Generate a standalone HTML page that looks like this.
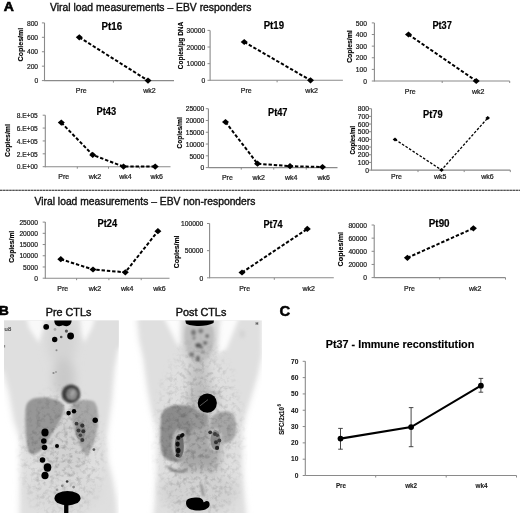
<!DOCTYPE html>
<html><head><meta charset="utf-8"><style>
html,body{margin:0;padding:0;background:#fff;width:520px;height:513px;overflow:hidden}
svg{display:block;font-family:"Liberation Sans", sans-serif;will-change:transform}
</style></head><body>
<svg width="520" height="513" viewBox="0 0 520 513">
<rect width="520" height="513" fill="#fff"/>
<defs>
<filter id="b5" x="-30%" y="-30%" width="160%" height="160%"><feGaussianBlur stdDeviation="5"/></filter>
<filter id="b3" x="-30%" y="-30%" width="160%" height="160%"><feGaussianBlur stdDeviation="3"/></filter>
<filter id="b2" x="-20%" y="-20%" width="140%" height="140%"><feGaussianBlur stdDeviation="2"/></filter>
<filter id="b1" x="-30%" y="-30%" width="160%" height="160%"><feGaussianBlur stdDeviation="1.1"/></filter>
<filter id="b06" x="-50%" y="-50%" width="200%" height="200%"><feGaussianBlur stdDeviation="0.55"/></filter>
<filter id="nz" x="0" y="0" width="100%" height="100%" color-interpolation-filters="sRGB">
  <feTurbulence type="fractalNoise" baseFrequency="0.22" numOctaves="3" seed="11"/>
  <feColorMatrix type="matrix" values="0 0 0 0 0  0 0 0 0 0  0 0 0 0 0  0.55 0 0 0 -0.25"/>
  <feGaussianBlur stdDeviation="0.55"/>
</filter>
<radialGradient id="nm1" cx="0.5" cy="0.5" r="0.5"><stop offset="0" stop-color="#fff"/><stop offset="0.7" stop-color="#fff" stop-opacity="0.6"/><stop offset="1" stop-color="#fff" stop-opacity="0"/></radialGradient>
<mask id="mk1" maskUnits="userSpaceOnUse" x="0" y="300" width="270" height="213"><ellipse cx="62" cy="455" rx="48" ry="75" fill="url(#nm1)"/></mask>
<mask id="mk2" maskUnits="userSpaceOnUse" x="0" y="300" width="270" height="213"><ellipse cx="199" cy="440" rx="50" ry="110" fill="url(#nm1)"/></mask>
<clipPath id="cp1"><rect x="4" y="320.6" width="114.7" height="192.4"/></clipPath>
<clipPath id="cp2"><rect x="132" y="320.6" width="130" height="192.4"/></clipPath>
</defs>
<!-- PRE -->
<g clip-path="url(#cp1)">
 <rect x="4" y="320.6" width="114.7" height="192.4" fill="#fff"/>
 <g filter="url(#b3)">
  <path d="M-6,310 L130,310 L130,335 L118,350 L114.5,370 L112,400 L107,436 L108,460 L113,480 L117,500 L118,520 L19,520 L20,470 L20,440 L13,420 L8,392 L2,372 L-6,360 Z" fill="#e6e6e6"/>
 </g>
 <g filter="url(#b2)">
  <path d="M-6,310 L130,310 L130,335 L116,350 L112.5,370 L110,400 L105,436 L106,460 L111,480 L114,500 L115,520 L22,520 L22,470 L22,440 L16,420 L11,392 L6,372 L-6,360 Z" fill="#dfdfdf"/>
 </g>
 <g filter="url(#b2)">
  <path d="M25,312 L45,312 L43,330 L39,343 L29,328 Z" fill="#f9f9f9"/>
  <path d="M80,312 L97,312 L92,328 L84,343 L81,333 Z" fill="#f9f9f9"/>
 </g>
 <g filter="url(#b5)">
  <ellipse cx="62" cy="342" rx="15" ry="24" fill="#d4d4d4"/>
  <ellipse cx="64" cy="378" rx="11" ry="20" fill="#c9c9c9"/>
  <ellipse cx="64" cy="448" rx="24" ry="36" fill="#d2d2d2"/>
  <ellipse cx="64" cy="492" rx="38" ry="20" fill="#dadada"/>
 </g>
 <g filter="url(#b1)">
  <path d="M25.5,410 C25.5,401 32,397.5 41,397.5 C50,397.5 57,399.5 62,403 C66,407 63,416 59,422 C54,430 48,440 42,449 C38,454 32,456 29,452.5 C26,446 25.3,425 25.5,410 Z" fill="#979797"/>
  <path d="M72,405 C75,400 87,398.5 94,401.5 C98.5,406 99,419 97,431 C95,442 91,450 87,456 C83,453 80,446 77,437 C73,427 70.5,414 72,405 Z" fill="#a7a7a7"/>
  <circle cx="71" cy="393.9" r="9.3" fill="#3c3c3c"/>
  <ellipse cx="72" cy="394.2" rx="5.6" ry="6" fill="#8a8a8a"/><ellipse cx="72.5" cy="393.5" rx="1.5" ry="3.5" fill="#a8a8a8" transform="rotate(25 72.5 393.5)"/>
 </g>
 <rect x="4" y="320.6" width="114.7" height="192.4" filter="url(#nz)" mask="url(#mk1)"/>
 <g filter="url(#b06)" fill="#000">
  <path d="M54.3,320 L71.6,320 C71.8,323 70,326 66.5,326.3 C64.5,326.4 63.5,325.3 62.8,325.3 C62,325.3 61,326.4 59,326.3 C55.5,326 54.2,323 54.3,320 Z"/>
  <circle cx="46.2" cy="326.8" r="2.9"/>
  <circle cx="66.4" cy="331.1" r="1.6" fill="#555"/><circle cx="55" cy="329.4" r="1.4" fill="#aaa"/>
  <circle cx="70.6" cy="336" r="3.4"/>
  <circle cx="54.7" cy="339.5" r="2.7"/>
  <circle cx="61.2" cy="337" r="1.3" fill="#555"/>
  <circle cx="56.5" cy="350.3" r="1" fill="#888"/>
  <circle cx="53.5" cy="373" r="1.1" fill="#888"/><circle cx="56" cy="372" r="0.9" fill="#999"/>
  <circle cx="68.6" cy="413.1" r="2.3"/><circle cx="74" cy="411.2" r="2.2"/>
  <circle cx="95.2" cy="420.3" r="2.7"/>
  <ellipse cx="45" cy="432.5" rx="3.6" ry="3.9"/><circle cx="43.8" cy="441" r="2.8"/><circle cx="44.5" cy="447.5" r="2.8"/>
  <circle cx="42.5" cy="460" r="2.8"/><ellipse cx="47.5" cy="467.5" rx="3.8" ry="4.2"/><ellipse cx="45" cy="475.5" rx="3.6" ry="3.8"/>
  <circle cx="57" cy="446" r="2"/>
  <ellipse cx="80.5" cy="431" rx="5" ry="9" fill="#777" opacity="0.6"/><circle cx="76.5" cy="423.7" r="1.9" fill="#3a3a3a"/><circle cx="82.3" cy="425.6" r="2.1" fill="#333"/><circle cx="78.5" cy="430.4" r="2" fill="#3a3a3a"/><circle cx="83.3" cy="431.3" r="2" fill="#333"/><circle cx="80.4" cy="435.2" r="1.8" fill="#444"/><circle cx="82.3" cy="440" r="2" fill="#3a3a3a"/>
  <circle cx="93.9" cy="449.6" r="1.4" fill="#555"/>
  <ellipse cx="67.5" cy="498.2" rx="13" ry="7.2"/>
  <rect x="64.1" y="503" width="4.3" height="14" rx="1.5"/>
  <circle cx="67.1" cy="481.5" r="1.3" fill="#333"/><circle cx="62.3" cy="485.8" r="1.4" fill="#888"/><circle cx="73.6" cy="487.1" r="1.4" fill="#888"/><circle cx="57.1" cy="489.7" r="1.3" fill="#999"/>
 </g>
</g>
<!-- POST -->
<g clip-path="url(#cp2)">
 <rect x="132" y="320.6" width="130" height="192.4" fill="#fff"/>
 <g filter="url(#b3)">
  <path d="M136,312 L262,312 L262,355 L258,375 L252,395 L246,415 L242.5,430 L242.5,470 L245,500 L247,520 L153,520 L155,500 L156.5,470 L156.5,430 L151,410 L147,388 L143,358 L139,340 Z" fill="#e6e6e6"/>
 </g>
 <g filter="url(#b2)">
  <path d="M138.5,312 L260.5,312 L260,355 L256,375 L250,395 L244,415 L240.5,430 L240.4,470 L243,500 L245,520 L155,520 L157,500 L158.7,470 L158.5,430 L153,410 L149,388 L145,358 L141,340 Z" fill="#dfdfdf"/>
 </g>
 <g filter="url(#b2)">
  <path d="M162,314 L180,314 L182.5,348 L177,344 Z" fill="#fcfcfc"/>
  <path d="M221.5,314 L240.5,314 L226.5,349 L218,354 L217,344 Z" fill="#fcfcfc"/>
  <ellipse cx="242.3" cy="334" rx="1.2" ry="3.5" fill="#c0c0c0"/>
 </g>
 <g filter="url(#b5)">
  <ellipse cx="199" cy="340" rx="15" ry="22" fill="#bdbdbd"/>
  <ellipse cx="199" cy="378" rx="10" ry="20" fill="#c2c2c2"/>
  <ellipse cx="202" cy="400" rx="16" ry="14" fill="#bcbcbc"/>
  <ellipse cx="199" cy="450" rx="22" ry="34" fill="#a8a8a8"/>
  <ellipse cx="199" cy="492" rx="38" ry="22" fill="#d2d2d2"/>
 </g>
 <g filter="url(#b1)">
  <path d="M161,418 C161,410 168,405.5 178,405 C188,404.5 196,408 199.5,413 C201,419 199,425 195,428 C190,431 188,438 187,446 C186,452 185,458 181,461 C175,463 166,461 162,454 C160,445 160,430 161,418 Z" fill="#8c8c8c"/>
  <path d="M190,412 C196,411 205,412 208,415 C209,421 206,427 200,429 C194,430 190,427 189,421 Z" fill="#979797"/>
  <path d="M210.5,421 C212,413 221,410.5 229,411.5 C235,414 237,423 236,432 C235,439 230,443 225,443.5 C218,443 213,437 211.5,430 Z" fill="#a6a6a6"/>
  <path d="M168,467 C172,471 180,473 186,470" stroke="#8a8a8a" stroke-width="3" fill="none"/>
  <path d="M201,484 L203.5,496" stroke="#8c8c8c" stroke-width="2.2"/>
  <ellipse cx="179.5" cy="444" rx="7.5" ry="15" fill="#bababa"/><ellipse cx="215.5" cy="440" rx="8" ry="12" fill="#bdbdbd"/>
 </g>
 <g filter="url(#b1)">
  <path d="M186,326 C192,327 206,327 212,326 C215,334 213,346 209,356 C205,362 195,362 190,356 C186,348 184,336 186,326 Z" fill="#bebebe"/>
  <ellipse cx="193.5" cy="332.5" rx="2.6" ry="3" fill="#7a7a7a"/><ellipse cx="200.8" cy="331" rx="2.6" ry="2.4" fill="#808080"/><circle cx="207.2" cy="336" r="2" fill="#707070"/><circle cx="194" cy="338" r="1.8" fill="#888"/>
  <ellipse cx="198.4" cy="345.3" rx="3.2" ry="2.6" fill="#606060"/><circle cx="205.2" cy="342.9" r="2.2" fill="#707070"/><circle cx="201.3" cy="347.5" r="1.8" fill="#777"/>
  <circle cx="191.6" cy="354.5" r="2.4" fill="#777"/><ellipse cx="197.9" cy="358.5" rx="2.2" ry="3" fill="#707070"/><circle cx="203" cy="352" r="1.6" fill="#888"/>
 </g>
 <rect x="132" y="320.6" width="130" height="192.4" filter="url(#nz)" mask="url(#mk2)"/>
 <g filter="url(#b06)" fill="#000">
  <path d="M185.2,320 L214,320 L213.5,323 C210,325 204,326 199,326 C193,326 188,325 186,323.5 Z"/>
  <circle cx="207.3" cy="403.1" r="9.6"/>
  <path d="M186,503 C186,498 192,497.5 197,497.5 C201,497.5 203,499 203.5,502 C204,503 205,501 206.5,501 C209,501 210,503 209.5,505.5 C208.5,509 204,510.5 198,510.5 C191,510.5 186,508 186,503 Z"/>
  <ellipse cx="179.3" cy="446" rx="4.6" ry="12" fill="#5a5a5a" opacity="0.8"/><ellipse cx="182.1" cy="435.3" rx="2.6" ry="2" transform="rotate(-35 182.1 435.3)" fill="#111"/><circle cx="178.4" cy="437.9" r="2.1" fill="#111"/><ellipse cx="177.6" cy="444.1" rx="2.2" ry="2.6" fill="#111"/><ellipse cx="178.2" cy="450.5" rx="2.3" ry="2.8" fill="#111"/><circle cx="177.6" cy="455.2" r="2" fill="#222"/>
  <ellipse cx="215.5" cy="440" rx="5" ry="10" fill="#6a6a6a" opacity="0.6"/><circle cx="210.2" cy="432.3" r="1.9" fill="#333"/><circle cx="215" cy="434" r="2" fill="#3a3a3a"/><circle cx="217.3" cy="435.3" r="1.8" fill="#444"/><circle cx="219.3" cy="440.4" r="2" fill="#3a3a3a"/><circle cx="216" cy="442.2" r="2" fill="#333"/><circle cx="217.1" cy="447.9" r="2.1" fill="#222"/>
 </g>
 <path d="M200,405.8 L208,399.6" stroke="#555" stroke-width="1"/>
 <text x="255.6" y="325" font-size="4" font-weight="bold" fill="#333">H</text>
</g>
<text x="4.6" y="330.8" font-size="4.6" fill="#444" stroke="#444" stroke-width="0.15" textLength="6.6" lengthAdjust="spacingAndGlyphs">u8</text><rect x="4.3" y="345" width="0.8" height="2.5" fill="#666"/>

<line x1="44.5" y1="22.9" x2="44.5" y2="81.1" stroke="#8a8a8a" stroke-width="1.1"/>
<line x1="44.5" y1="80.6" x2="174" y2="80.6" stroke="#8a8a8a" stroke-width="1.1"/>
<line x1="41.9" y1="80.60" x2="44.5" y2="80.60" stroke="#8a8a8a" stroke-width="1"/>
<text x="38.10" y="83.30" font-size="7.2" font-weight="normal" text-anchor="end" fill="#1a1a1a" stroke="#1a1a1a" stroke-width="0.22" textLength="3.72" lengthAdjust="spacingAndGlyphs" >0</text>
<line x1="41.9" y1="66.17" x2="44.5" y2="66.17" stroke="#8a8a8a" stroke-width="1"/>
<text x="38.10" y="68.88" font-size="7.2" font-weight="normal" text-anchor="end" fill="#1a1a1a" stroke="#1a1a1a" stroke-width="0.22" textLength="11.16" lengthAdjust="spacingAndGlyphs" >200</text>
<line x1="41.9" y1="51.75" x2="44.5" y2="51.75" stroke="#8a8a8a" stroke-width="1"/>
<text x="38.10" y="54.45" font-size="7.2" font-weight="normal" text-anchor="end" fill="#1a1a1a" stroke="#1a1a1a" stroke-width="0.22" textLength="11.16" lengthAdjust="spacingAndGlyphs" >400</text>
<line x1="41.9" y1="37.32" x2="44.5" y2="37.32" stroke="#8a8a8a" stroke-width="1"/>
<text x="38.10" y="40.02" font-size="7.2" font-weight="normal" text-anchor="end" fill="#1a1a1a" stroke="#1a1a1a" stroke-width="0.22" textLength="11.16" lengthAdjust="spacingAndGlyphs" >600</text>
<line x1="41.9" y1="22.90" x2="44.5" y2="22.90" stroke="#8a8a8a" stroke-width="1"/>
<text x="38.10" y="25.60" font-size="7.2" font-weight="normal" text-anchor="end" fill="#1a1a1a" stroke="#1a1a1a" stroke-width="0.22" textLength="11.16" lengthAdjust="spacingAndGlyphs" >800</text>
<line x1="113.4" y1="80.6" x2="113.4" y2="82.6" stroke="#8a8a8a" stroke-width="1"/>
<text x="81.30" y="93.20" font-size="7.0" font-weight="normal" text-anchor="middle" fill="#1a1a1a" stroke="#1a1a1a" stroke-width="0.22" >Pre</text>
<text x="149.50" y="93.20" font-size="7.0" font-weight="normal" text-anchor="middle" fill="#1a1a1a" stroke="#1a1a1a" stroke-width="0.22" >wk2</text>
<text x="101.60" y="29.70" font-size="10.0" font-weight="bold" text-anchor="start" fill="#000" stroke="#000" stroke-width="0.2" textLength="20.5" lengthAdjust="spacingAndGlyphs" >Pt16</text>
<text x="20.80" y="44.60" font-size="7" font-weight="bold" text-anchor="middle" fill="#000" stroke="#000" stroke-width="0.15" textLength="33.7" lengthAdjust="spacingAndGlyphs" transform="rotate(-90 20.80 44.60)" dy="2.4">Copies/ml</text>
<path d="M79.30,37.30 L148.00,80.60" fill="none" stroke="#000" stroke-width="2.0" stroke-dasharray="3.4 1.9"/>
<path d="M75.80,37.30 L79.30,34.22 L82.80,37.30 L79.30,40.38Z" fill="#000"/>
<path d="M144.50,80.60 L148.00,77.52 L151.50,80.60 L148.00,83.68Z" fill="#000"/>
<line x1="210.1" y1="30.4" x2="210.1" y2="80.8" stroke="#8a8a8a" stroke-width="1.1"/>
<line x1="210.1" y1="80.3" x2="342.9" y2="80.3" stroke="#8a8a8a" stroke-width="1.1"/>
<line x1="207.5" y1="80.30" x2="210.1" y2="80.30" stroke="#8a8a8a" stroke-width="1"/>
<text x="205.20" y="83.00" font-size="7.2" font-weight="normal" text-anchor="end" fill="#1a1a1a" stroke="#1a1a1a" stroke-width="0.22" textLength="3.72" lengthAdjust="spacingAndGlyphs" >0</text>
<line x1="207.5" y1="63.67" x2="210.1" y2="63.67" stroke="#8a8a8a" stroke-width="1"/>
<text x="205.20" y="66.37" font-size="7.2" font-weight="normal" text-anchor="end" fill="#1a1a1a" stroke="#1a1a1a" stroke-width="0.22" textLength="18.60" lengthAdjust="spacingAndGlyphs" >10000</text>
<line x1="207.5" y1="47.03" x2="210.1" y2="47.03" stroke="#8a8a8a" stroke-width="1"/>
<text x="205.20" y="49.73" font-size="7.2" font-weight="normal" text-anchor="end" fill="#1a1a1a" stroke="#1a1a1a" stroke-width="0.22" textLength="18.60" lengthAdjust="spacingAndGlyphs" >20000</text>
<line x1="207.5" y1="30.40" x2="210.1" y2="30.40" stroke="#8a8a8a" stroke-width="1"/>
<text x="205.20" y="33.10" font-size="7.2" font-weight="normal" text-anchor="end" fill="#1a1a1a" stroke="#1a1a1a" stroke-width="0.22" textLength="18.60" lengthAdjust="spacingAndGlyphs" >30000</text>
<line x1="277.1" y1="80.3" x2="277.1" y2="82.3" stroke="#8a8a8a" stroke-width="1"/>
<text x="246.20" y="93.20" font-size="7.0" font-weight="normal" text-anchor="middle" fill="#1a1a1a" stroke="#1a1a1a" stroke-width="0.22" >Pre</text>
<text x="311.60" y="93.20" font-size="7.0" font-weight="normal" text-anchor="middle" fill="#1a1a1a" stroke="#1a1a1a" stroke-width="0.22" >wk2</text>
<text x="263.70" y="28.90" font-size="10.0" font-weight="bold" text-anchor="start" fill="#000" stroke="#000" stroke-width="0.2" textLength="20.3" lengthAdjust="spacingAndGlyphs" >Pt19</text>
<text x="180.30" y="45.50" font-size="7" font-weight="bold" text-anchor="middle" fill="#000" stroke="#000" stroke-width="0.15" textLength="47.6" lengthAdjust="spacingAndGlyphs" transform="rotate(-90 180.30 45.50)" dy="2.4">Copies/μg DNA</text>
<path d="M244.20,42.00 L310.50,80.30" fill="none" stroke="#000" stroke-width="2.0" stroke-dasharray="3.4 1.9"/>
<path d="M240.70,42.00 L244.20,38.92 L247.70,42.00 L244.20,45.08Z" fill="#000"/>
<path d="M307.00,80.30 L310.50,77.22 L314.00,80.30 L310.50,83.38Z" fill="#000"/>
<line x1="374.4" y1="22.9" x2="374.4" y2="81.5" stroke="#8a8a8a" stroke-width="1.1"/>
<line x1="374.4" y1="81" x2="509.7" y2="81" stroke="#8a8a8a" stroke-width="1.1"/>
<line x1="371.79999999999995" y1="81.00" x2="374.4" y2="81.00" stroke="#8a8a8a" stroke-width="1"/>
<text x="367.00" y="83.70" font-size="7.2" font-weight="normal" text-anchor="end" fill="#1a1a1a" stroke="#1a1a1a" stroke-width="0.22" textLength="3.72" lengthAdjust="spacingAndGlyphs" >0</text>
<line x1="371.79999999999995" y1="69.38" x2="374.4" y2="69.38" stroke="#8a8a8a" stroke-width="1"/>
<text x="367.00" y="72.08" font-size="7.2" font-weight="normal" text-anchor="end" fill="#1a1a1a" stroke="#1a1a1a" stroke-width="0.22" textLength="11.16" lengthAdjust="spacingAndGlyphs" >100</text>
<line x1="371.79999999999995" y1="57.76" x2="374.4" y2="57.76" stroke="#8a8a8a" stroke-width="1"/>
<text x="367.00" y="60.46" font-size="7.2" font-weight="normal" text-anchor="end" fill="#1a1a1a" stroke="#1a1a1a" stroke-width="0.22" textLength="11.16" lengthAdjust="spacingAndGlyphs" >200</text>
<line x1="371.79999999999995" y1="46.14" x2="374.4" y2="46.14" stroke="#8a8a8a" stroke-width="1"/>
<text x="367.00" y="48.84" font-size="7.2" font-weight="normal" text-anchor="end" fill="#1a1a1a" stroke="#1a1a1a" stroke-width="0.22" textLength="11.16" lengthAdjust="spacingAndGlyphs" >300</text>
<line x1="371.79999999999995" y1="34.52" x2="374.4" y2="34.52" stroke="#8a8a8a" stroke-width="1"/>
<text x="367.00" y="37.22" font-size="7.2" font-weight="normal" text-anchor="end" fill="#1a1a1a" stroke="#1a1a1a" stroke-width="0.22" textLength="11.16" lengthAdjust="spacingAndGlyphs" >400</text>
<line x1="371.79999999999995" y1="22.90" x2="374.4" y2="22.90" stroke="#8a8a8a" stroke-width="1"/>
<text x="367.00" y="25.60" font-size="7.2" font-weight="normal" text-anchor="end" fill="#1a1a1a" stroke="#1a1a1a" stroke-width="0.22" textLength="11.16" lengthAdjust="spacingAndGlyphs" >500</text>
<line x1="442.2" y1="81" x2="442.2" y2="83" stroke="#8a8a8a" stroke-width="1"/>
<line x1="509.7" y1="81" x2="509.7" y2="83" stroke="#8a8a8a" stroke-width="1"/>
<text x="410.20" y="93.50" font-size="7.0" font-weight="normal" text-anchor="middle" fill="#1a1a1a" stroke="#1a1a1a" stroke-width="0.22" >Pre</text>
<text x="478.20" y="93.50" font-size="7.0" font-weight="normal" text-anchor="middle" fill="#1a1a1a" stroke="#1a1a1a" stroke-width="0.22" >wk2</text>
<text x="432.40" y="29.20" font-size="10.0" font-weight="bold" text-anchor="start" fill="#000" stroke="#000" stroke-width="0.2" textLength="19.4" lengthAdjust="spacingAndGlyphs" >Pt37</text>
<text x="349.50" y="46.60" font-size="7" font-weight="bold" text-anchor="middle" fill="#000" stroke="#000" stroke-width="0.15" textLength="32.5" lengthAdjust="spacingAndGlyphs" transform="rotate(-90 349.50 46.60)" dy="2.4">Copies/ml</text>
<path d="M408.50,34.50 L476.20,81.00" fill="none" stroke="#000" stroke-width="2.0" stroke-dasharray="3.4 1.9"/>
<path d="M405.00,34.50 L408.50,31.42 L412.00,34.50 L408.50,37.58Z" fill="#000"/>
<path d="M472.70,81.00 L476.20,77.92 L479.70,81.00 L476.20,84.08Z" fill="#000"/>
<line x1="45.3" y1="115.2" x2="45.3" y2="167.2" stroke="#8a8a8a" stroke-width="1.1"/>
<line x1="45.3" y1="166.7" x2="170.5" y2="166.7" stroke="#8a8a8a" stroke-width="1.1"/>
<line x1="42.699999999999996" y1="166.70" x2="45.3" y2="166.70" stroke="#8a8a8a" stroke-width="1"/>
<text x="37.70" y="169.40" font-size="7.2" font-weight="normal" text-anchor="end" fill="#1a1a1a" stroke="#1a1a1a" stroke-width="0.22" textLength="21" lengthAdjust="spacingAndGlyphs" >0.E+00</text>
<line x1="42.699999999999996" y1="153.82" x2="45.3" y2="153.82" stroke="#8a8a8a" stroke-width="1"/>
<text x="37.70" y="156.52" font-size="7.2" font-weight="normal" text-anchor="end" fill="#1a1a1a" stroke="#1a1a1a" stroke-width="0.22" textLength="21" lengthAdjust="spacingAndGlyphs" >2.E+05</text>
<line x1="42.699999999999996" y1="140.95" x2="45.3" y2="140.95" stroke="#8a8a8a" stroke-width="1"/>
<text x="37.70" y="143.65" font-size="7.2" font-weight="normal" text-anchor="end" fill="#1a1a1a" stroke="#1a1a1a" stroke-width="0.22" textLength="21" lengthAdjust="spacingAndGlyphs" >4.E+05</text>
<line x1="42.699999999999996" y1="128.07" x2="45.3" y2="128.07" stroke="#8a8a8a" stroke-width="1"/>
<text x="37.70" y="130.77" font-size="7.2" font-weight="normal" text-anchor="end" fill="#1a1a1a" stroke="#1a1a1a" stroke-width="0.22" textLength="21" lengthAdjust="spacingAndGlyphs" >6.E+05</text>
<line x1="42.699999999999996" y1="115.20" x2="45.3" y2="115.20" stroke="#8a8a8a" stroke-width="1"/>
<text x="37.70" y="117.90" font-size="7.2" font-weight="normal" text-anchor="end" fill="#1a1a1a" stroke="#1a1a1a" stroke-width="0.22" textLength="21" lengthAdjust="spacingAndGlyphs" >8.E+05</text>
<line x1="77.3" y1="166.7" x2="77.3" y2="168.7" stroke="#8a8a8a" stroke-width="1"/>
<line x1="108.5" y1="166.7" x2="108.5" y2="168.7" stroke="#8a8a8a" stroke-width="1"/>
<line x1="139.6" y1="166.7" x2="139.6" y2="168.7" stroke="#8a8a8a" stroke-width="1"/>
<text x="63.80" y="179.40" font-size="7.0" font-weight="normal" text-anchor="middle" fill="#1a1a1a" stroke="#1a1a1a" stroke-width="0.22" >Pre</text>
<text x="94.90" y="179.40" font-size="7.0" font-weight="normal" text-anchor="middle" fill="#1a1a1a" stroke="#1a1a1a" stroke-width="0.22" >wk2</text>
<text x="125.40" y="179.40" font-size="7.0" font-weight="normal" text-anchor="middle" fill="#1a1a1a" stroke="#1a1a1a" stroke-width="0.22" >wk4</text>
<text x="156.80" y="179.40" font-size="7.0" font-weight="normal" text-anchor="middle" fill="#1a1a1a" stroke="#1a1a1a" stroke-width="0.22" >wk6</text>
<text x="96.50" y="115.20" font-size="10.0" font-weight="bold" text-anchor="start" fill="#000" stroke="#000" stroke-width="0.2" textLength="19.6" lengthAdjust="spacingAndGlyphs" >Pt43</text>
<text x="7.80" y="140.60" font-size="7" font-weight="bold" text-anchor="middle" fill="#000" stroke="#000" stroke-width="0.15" textLength="32.9" lengthAdjust="spacingAndGlyphs" transform="rotate(-90 7.80 140.60)" dy="2.4">Copies/ml</text>
<path d="M61.30,122.60 L92.70,154.90 L123.50,166.60 L155.20,166.60" fill="none" stroke="#000" stroke-width="2.0" stroke-dasharray="3.4 1.9"/>
<path d="M57.80,122.60 L61.30,119.52 L64.80,122.60 L61.30,125.68Z" fill="#000"/>
<path d="M89.20,154.90 L92.70,151.82 L96.20,154.90 L92.70,157.98Z" fill="#000"/>
<path d="M120.00,166.60 L123.50,163.52 L127.00,166.60 L123.50,169.68Z" fill="#000"/>
<path d="M151.70,166.60 L155.20,163.52 L158.70,166.60 L155.20,169.68Z" fill="#000"/>
<line x1="208.4" y1="108.7" x2="208.4" y2="168.1" stroke="#8a8a8a" stroke-width="1.1"/>
<line x1="208.4" y1="167.6" x2="337.5" y2="167.6" stroke="#8a8a8a" stroke-width="1.1"/>
<line x1="205.8" y1="167.60" x2="208.4" y2="167.60" stroke="#8a8a8a" stroke-width="1"/>
<text x="204.30" y="170.30" font-size="7.2" font-weight="normal" text-anchor="end" fill="#1a1a1a" stroke="#1a1a1a" stroke-width="0.22" textLength="3.72" lengthAdjust="spacingAndGlyphs" >0</text>
<line x1="205.8" y1="155.82" x2="208.4" y2="155.82" stroke="#8a8a8a" stroke-width="1"/>
<text x="204.30" y="158.52" font-size="7.2" font-weight="normal" text-anchor="end" fill="#1a1a1a" stroke="#1a1a1a" stroke-width="0.22" textLength="14.88" lengthAdjust="spacingAndGlyphs" >5000</text>
<line x1="205.8" y1="144.04" x2="208.4" y2="144.04" stroke="#8a8a8a" stroke-width="1"/>
<text x="204.30" y="146.74" font-size="7.2" font-weight="normal" text-anchor="end" fill="#1a1a1a" stroke="#1a1a1a" stroke-width="0.22" textLength="18.60" lengthAdjust="spacingAndGlyphs" >10000</text>
<line x1="205.8" y1="132.26" x2="208.4" y2="132.26" stroke="#8a8a8a" stroke-width="1"/>
<text x="204.30" y="134.96" font-size="7.2" font-weight="normal" text-anchor="end" fill="#1a1a1a" stroke="#1a1a1a" stroke-width="0.22" textLength="18.60" lengthAdjust="spacingAndGlyphs" >15000</text>
<line x1="205.8" y1="120.48" x2="208.4" y2="120.48" stroke="#8a8a8a" stroke-width="1"/>
<text x="204.30" y="123.18" font-size="7.2" font-weight="normal" text-anchor="end" fill="#1a1a1a" stroke="#1a1a1a" stroke-width="0.22" textLength="18.60" lengthAdjust="spacingAndGlyphs" >20000</text>
<line x1="205.8" y1="108.70" x2="208.4" y2="108.70" stroke="#8a8a8a" stroke-width="1"/>
<text x="204.30" y="111.40" font-size="7.2" font-weight="normal" text-anchor="end" fill="#1a1a1a" stroke="#1a1a1a" stroke-width="0.22" textLength="18.60" lengthAdjust="spacingAndGlyphs" >25000</text>
<line x1="241.25" y1="167.6" x2="241.25" y2="169.6" stroke="#8a8a8a" stroke-width="1"/>
<line x1="273.75" y1="167.6" x2="273.75" y2="169.6" stroke="#8a8a8a" stroke-width="1"/>
<line x1="306.25" y1="167.6" x2="306.25" y2="169.6" stroke="#8a8a8a" stroke-width="1"/>
<text x="227.40" y="179.80" font-size="7.0" font-weight="normal" text-anchor="middle" fill="#1a1a1a" stroke="#1a1a1a" stroke-width="0.22" >Pre</text>
<text x="258.80" y="179.80" font-size="7.0" font-weight="normal" text-anchor="middle" fill="#1a1a1a" stroke="#1a1a1a" stroke-width="0.22" >wk2</text>
<text x="291.30" y="179.80" font-size="7.0" font-weight="normal" text-anchor="middle" fill="#1a1a1a" stroke="#1a1a1a" stroke-width="0.22" >wk4</text>
<text x="323.80" y="179.80" font-size="7.0" font-weight="normal" text-anchor="middle" fill="#1a1a1a" stroke="#1a1a1a" stroke-width="0.22" >wk6</text>
<text x="268.00" y="115.95" font-size="10.0" font-weight="bold" text-anchor="start" fill="#000" stroke="#000" stroke-width="0.2" textLength="19.5" lengthAdjust="spacingAndGlyphs" >Pt47</text>
<text x="179.50" y="132.90" font-size="7" font-weight="bold" text-anchor="middle" fill="#000" stroke="#000" stroke-width="0.15" textLength="31.2" lengthAdjust="spacingAndGlyphs" transform="rotate(-90 179.50 132.90)" dy="2.4">Copies/ml</text>
<path d="M225.50,122.00 L257.50,163.70 L290.00,166.20 L322.50,167.00" fill="none" stroke="#000" stroke-width="2.0" stroke-dasharray="3.4 1.9"/>
<path d="M222.00,122.00 L225.50,118.92 L229.00,122.00 L225.50,125.08Z" fill="#000"/>
<path d="M254.00,163.70 L257.50,160.62 L261.00,163.70 L257.50,166.78Z" fill="#000"/>
<path d="M286.50,166.20 L290.00,163.12 L293.50,166.20 L290.00,169.28Z" fill="#000"/>
<path d="M319.00,167.00 L322.50,163.92 L326.00,167.00 L322.50,170.08Z" fill="#000"/>
<line x1="371.5" y1="108.7" x2="371.5" y2="170.6" stroke="#8a8a8a" stroke-width="1.1"/>
<line x1="371.5" y1="170.1" x2="510.3" y2="170.1" stroke="#8a8a8a" stroke-width="1.1"/>
<line x1="368.9" y1="170.10" x2="371.5" y2="170.10" stroke="#8a8a8a" stroke-width="1"/>
<text x="369.00" y="172.80" font-size="7.2" font-weight="normal" text-anchor="end" fill="#1a1a1a" stroke="#1a1a1a" stroke-width="0.22" textLength="3.72" lengthAdjust="spacingAndGlyphs" >0</text>
<line x1="368.9" y1="162.42" x2="371.5" y2="162.42" stroke="#8a8a8a" stroke-width="1"/>
<text x="369.00" y="165.12" font-size="7.2" font-weight="normal" text-anchor="end" fill="#1a1a1a" stroke="#1a1a1a" stroke-width="0.22" textLength="11.16" lengthAdjust="spacingAndGlyphs" >100</text>
<line x1="368.9" y1="154.75" x2="371.5" y2="154.75" stroke="#8a8a8a" stroke-width="1"/>
<text x="369.00" y="157.45" font-size="7.2" font-weight="normal" text-anchor="end" fill="#1a1a1a" stroke="#1a1a1a" stroke-width="0.22" textLength="11.16" lengthAdjust="spacingAndGlyphs" >200</text>
<line x1="368.9" y1="147.07" x2="371.5" y2="147.07" stroke="#8a8a8a" stroke-width="1"/>
<text x="369.00" y="149.77" font-size="7.2" font-weight="normal" text-anchor="end" fill="#1a1a1a" stroke="#1a1a1a" stroke-width="0.22" textLength="11.16" lengthAdjust="spacingAndGlyphs" >300</text>
<line x1="368.9" y1="139.40" x2="371.5" y2="139.40" stroke="#8a8a8a" stroke-width="1"/>
<text x="369.00" y="142.10" font-size="7.2" font-weight="normal" text-anchor="end" fill="#1a1a1a" stroke="#1a1a1a" stroke-width="0.22" textLength="11.16" lengthAdjust="spacingAndGlyphs" >400</text>
<line x1="368.9" y1="131.72" x2="371.5" y2="131.72" stroke="#8a8a8a" stroke-width="1"/>
<text x="369.00" y="134.42" font-size="7.2" font-weight="normal" text-anchor="end" fill="#1a1a1a" stroke="#1a1a1a" stroke-width="0.22" textLength="11.16" lengthAdjust="spacingAndGlyphs" >500</text>
<line x1="368.9" y1="124.05" x2="371.5" y2="124.05" stroke="#8a8a8a" stroke-width="1"/>
<text x="369.00" y="126.75" font-size="7.2" font-weight="normal" text-anchor="end" fill="#1a1a1a" stroke="#1a1a1a" stroke-width="0.22" textLength="11.16" lengthAdjust="spacingAndGlyphs" >600</text>
<line x1="368.9" y1="116.38" x2="371.5" y2="116.38" stroke="#8a8a8a" stroke-width="1"/>
<text x="369.00" y="119.08" font-size="7.2" font-weight="normal" text-anchor="end" fill="#1a1a1a" stroke="#1a1a1a" stroke-width="0.22" textLength="11.16" lengthAdjust="spacingAndGlyphs" >700</text>
<line x1="368.9" y1="108.70" x2="371.5" y2="108.70" stroke="#8a8a8a" stroke-width="1"/>
<text x="369.00" y="111.40" font-size="7.2" font-weight="normal" text-anchor="end" fill="#1a1a1a" stroke="#1a1a1a" stroke-width="0.22" textLength="11.16" lengthAdjust="spacingAndGlyphs" >800</text>
<line x1="418" y1="170.1" x2="418" y2="172.1" stroke="#8a8a8a" stroke-width="1"/>
<line x1="464.2" y1="170.1" x2="464.2" y2="172.1" stroke="#8a8a8a" stroke-width="1"/>
<line x1="510.3" y1="170.1" x2="510.3" y2="172.1" stroke="#8a8a8a" stroke-width="1"/>
<text x="396.50" y="179.40" font-size="7.0" font-weight="normal" text-anchor="middle" fill="#1a1a1a" stroke="#1a1a1a" stroke-width="0.22" >Pre</text>
<text x="440.30" y="179.40" font-size="7.0" font-weight="normal" text-anchor="middle" fill="#1a1a1a" stroke="#1a1a1a" stroke-width="0.22" >wk5</text>
<text x="487.50" y="179.40" font-size="7.0" font-weight="normal" text-anchor="middle" fill="#1a1a1a" stroke="#1a1a1a" stroke-width="0.22" >wk6</text>
<text x="423.10" y="118.20" font-size="10.0" font-weight="bold" text-anchor="start" fill="#000" stroke="#000" stroke-width="0.2" textLength="19.6" lengthAdjust="spacingAndGlyphs" >Pt79</text>
<text x="353.00" y="140.20" font-size="7" font-weight="bold" text-anchor="middle" fill="#000" stroke="#000" stroke-width="0.15" textLength="28.5" lengthAdjust="spacingAndGlyphs" transform="rotate(-90 353.00 140.20)" dy="2.4">Copies/ml</text>
<path d="M395.00,139.40 L441.50,170.00 L487.70,118.00" fill="none" stroke="#000" stroke-width="1.3" stroke-dasharray="2.6 1.6"/>
<path d="M392.70,139.40 L395.00,137.38 L397.30,139.40 L395.00,141.42Z" fill="#000"/>
<path d="M439.20,170.00 L441.50,167.98 L443.80,170.00 L441.50,172.02Z" fill="#000"/>
<path d="M485.40,118.00 L487.70,115.98 L490.00,118.00 L487.70,120.02Z" fill="#000"/>
<line x1="45.3" y1="222.1" x2="45.3" y2="278.7" stroke="#8a8a8a" stroke-width="1.1"/>
<line x1="45.3" y1="278.2" x2="169.5" y2="278.2" stroke="#8a8a8a" stroke-width="1.1"/>
<line x1="42.699999999999996" y1="278.20" x2="45.3" y2="278.20" stroke="#8a8a8a" stroke-width="1"/>
<text x="38.00" y="280.90" font-size="7.2" font-weight="normal" text-anchor="end" fill="#1a1a1a" stroke="#1a1a1a" stroke-width="0.22" textLength="3.72" lengthAdjust="spacingAndGlyphs" >0</text>
<line x1="42.699999999999996" y1="266.98" x2="45.3" y2="266.98" stroke="#8a8a8a" stroke-width="1"/>
<text x="38.00" y="269.68" font-size="7.2" font-weight="normal" text-anchor="end" fill="#1a1a1a" stroke="#1a1a1a" stroke-width="0.22" textLength="14.88" lengthAdjust="spacingAndGlyphs" >5000</text>
<line x1="42.699999999999996" y1="255.76" x2="45.3" y2="255.76" stroke="#8a8a8a" stroke-width="1"/>
<text x="38.00" y="258.46" font-size="7.2" font-weight="normal" text-anchor="end" fill="#1a1a1a" stroke="#1a1a1a" stroke-width="0.22" textLength="18.60" lengthAdjust="spacingAndGlyphs" >10000</text>
<line x1="42.699999999999996" y1="244.54" x2="45.3" y2="244.54" stroke="#8a8a8a" stroke-width="1"/>
<text x="38.00" y="247.24" font-size="7.2" font-weight="normal" text-anchor="end" fill="#1a1a1a" stroke="#1a1a1a" stroke-width="0.22" textLength="18.60" lengthAdjust="spacingAndGlyphs" >15000</text>
<line x1="42.699999999999996" y1="233.32" x2="45.3" y2="233.32" stroke="#8a8a8a" stroke-width="1"/>
<text x="38.00" y="236.02" font-size="7.2" font-weight="normal" text-anchor="end" fill="#1a1a1a" stroke="#1a1a1a" stroke-width="0.22" textLength="18.60" lengthAdjust="spacingAndGlyphs" >20000</text>
<line x1="42.699999999999996" y1="222.10" x2="45.3" y2="222.10" stroke="#8a8a8a" stroke-width="1"/>
<text x="38.00" y="224.80" font-size="7.2" font-weight="normal" text-anchor="end" fill="#1a1a1a" stroke="#1a1a1a" stroke-width="0.22" textLength="18.60" lengthAdjust="spacingAndGlyphs" >25000</text>
<line x1="76.6" y1="278.2" x2="76.6" y2="280.2" stroke="#8a8a8a" stroke-width="1"/>
<line x1="108.9" y1="278.2" x2="108.9" y2="280.2" stroke="#8a8a8a" stroke-width="1"/>
<line x1="141.2" y1="278.2" x2="141.2" y2="280.2" stroke="#8a8a8a" stroke-width="1"/>
<text x="62.80" y="291.00" font-size="7.0" font-weight="normal" text-anchor="middle" fill="#1a1a1a" stroke="#1a1a1a" stroke-width="0.22" >Pre</text>
<text x="94.90" y="291.00" font-size="7.0" font-weight="normal" text-anchor="middle" fill="#1a1a1a" stroke="#1a1a1a" stroke-width="0.22" >wk2</text>
<text x="127.20" y="291.00" font-size="7.0" font-weight="normal" text-anchor="middle" fill="#1a1a1a" stroke="#1a1a1a" stroke-width="0.22" >wk4</text>
<text x="159.50" y="291.00" font-size="7.0" font-weight="normal" text-anchor="middle" fill="#1a1a1a" stroke="#1a1a1a" stroke-width="0.22" >wk6</text>
<text x="97.60" y="226.80" font-size="10.0" font-weight="bold" text-anchor="start" fill="#000" stroke="#000" stroke-width="0.2" textLength="19.6" lengthAdjust="spacingAndGlyphs" >Pt24</text>
<text x="11.20" y="246.80" font-size="7" font-weight="bold" text-anchor="middle" fill="#000" stroke="#000" stroke-width="0.15" textLength="32.0" lengthAdjust="spacingAndGlyphs" transform="rotate(-90 11.20 246.80)" dy="2.4">Copies/ml</text>
<path d="M60.80,259.20 L93.00,269.50 L125.30,272.30 L157.90,231.20" fill="none" stroke="#000" stroke-width="2.0" stroke-dasharray="3.4 1.9"/>
<path d="M57.30,259.20 L60.80,256.12 L64.30,259.20 L60.80,262.28Z" fill="#000"/>
<path d="M89.50,269.50 L93.00,266.42 L96.50,269.50 L93.00,272.58Z" fill="#000"/>
<path d="M121.80,272.30 L125.30,269.22 L128.80,272.30 L125.30,275.38Z" fill="#000"/>
<path d="M154.40,231.20 L157.90,228.12 L161.40,231.20 L157.90,234.28Z" fill="#000"/>
<line x1="209.6" y1="223.5" x2="209.6" y2="278.3" stroke="#8a8a8a" stroke-width="1.1"/>
<line x1="209.6" y1="277.8" x2="333.8" y2="277.8" stroke="#8a8a8a" stroke-width="1.1"/>
<line x1="207.0" y1="277.80" x2="209.6" y2="277.80" stroke="#8a8a8a" stroke-width="1"/>
<text x="203.30" y="280.50" font-size="7.2" font-weight="normal" text-anchor="end" fill="#1a1a1a" stroke="#1a1a1a" stroke-width="0.22" textLength="3.72" lengthAdjust="spacingAndGlyphs" >0</text>
<line x1="207.0" y1="250.65" x2="209.6" y2="250.65" stroke="#8a8a8a" stroke-width="1"/>
<text x="203.30" y="253.35" font-size="7.2" font-weight="normal" text-anchor="end" fill="#1a1a1a" stroke="#1a1a1a" stroke-width="0.22" textLength="18.60" lengthAdjust="spacingAndGlyphs" >50000</text>
<line x1="207.0" y1="223.50" x2="209.6" y2="223.50" stroke="#8a8a8a" stroke-width="1"/>
<text x="203.30" y="226.20" font-size="7.2" font-weight="normal" text-anchor="end" fill="#1a1a1a" stroke="#1a1a1a" stroke-width="0.22" textLength="22.32" lengthAdjust="spacingAndGlyphs" >100000</text>
<line x1="274.3" y1="277.8" x2="274.3" y2="279.8" stroke="#8a8a8a" stroke-width="1"/>
<text x="244.60" y="290.70" font-size="7.0" font-weight="normal" text-anchor="middle" fill="#1a1a1a" stroke="#1a1a1a" stroke-width="0.22" >Pre</text>
<text x="308.80" y="290.70" font-size="7.0" font-weight="normal" text-anchor="middle" fill="#1a1a1a" stroke="#1a1a1a" stroke-width="0.22" >wk2</text>
<text x="263.50" y="227.50" font-size="10.0" font-weight="bold" text-anchor="start" fill="#000" stroke="#000" stroke-width="0.2" textLength="19.1" lengthAdjust="spacingAndGlyphs" >Pt74</text>
<text x="176.40" y="251.90" font-size="7" font-weight="bold" text-anchor="middle" fill="#000" stroke="#000" stroke-width="0.15" textLength="32.5" lengthAdjust="spacingAndGlyphs" transform="rotate(-90 176.40 251.90)" dy="2.4">Copies/ml</text>
<path d="M242.00,272.50 L307.30,228.90" fill="none" stroke="#000" stroke-width="2.0" stroke-dasharray="3.4 1.9"/>
<path d="M238.50,272.50 L242.00,269.42 L245.50,272.50 L242.00,275.58Z" fill="#000"/>
<path d="M303.80,228.90 L307.30,225.82 L310.80,228.90 L307.30,231.98Z" fill="#000"/>
<line x1="374.2" y1="225" x2="374.2" y2="278.1" stroke="#8a8a8a" stroke-width="1.1"/>
<line x1="374.2" y1="277.6" x2="505.5" y2="277.6" stroke="#8a8a8a" stroke-width="1.1"/>
<line x1="371.59999999999997" y1="277.60" x2="374.2" y2="277.60" stroke="#8a8a8a" stroke-width="1"/>
<text x="367.00" y="280.30" font-size="7.2" font-weight="normal" text-anchor="end" fill="#1a1a1a" stroke="#1a1a1a" stroke-width="0.22" textLength="3.72" lengthAdjust="spacingAndGlyphs" >0</text>
<line x1="371.59999999999997" y1="264.45" x2="374.2" y2="264.45" stroke="#8a8a8a" stroke-width="1"/>
<text x="367.00" y="267.15" font-size="7.2" font-weight="normal" text-anchor="end" fill="#1a1a1a" stroke="#1a1a1a" stroke-width="0.22" textLength="18.60" lengthAdjust="spacingAndGlyphs" >20000</text>
<line x1="371.59999999999997" y1="251.30" x2="374.2" y2="251.30" stroke="#8a8a8a" stroke-width="1"/>
<text x="367.00" y="254.00" font-size="7.2" font-weight="normal" text-anchor="end" fill="#1a1a1a" stroke="#1a1a1a" stroke-width="0.22" textLength="18.60" lengthAdjust="spacingAndGlyphs" >40000</text>
<line x1="371.59999999999997" y1="238.15" x2="374.2" y2="238.15" stroke="#8a8a8a" stroke-width="1"/>
<text x="367.00" y="240.85" font-size="7.2" font-weight="normal" text-anchor="end" fill="#1a1a1a" stroke="#1a1a1a" stroke-width="0.22" textLength="18.60" lengthAdjust="spacingAndGlyphs" >60000</text>
<line x1="371.59999999999997" y1="225.00" x2="374.2" y2="225.00" stroke="#8a8a8a" stroke-width="1"/>
<text x="367.00" y="227.70" font-size="7.2" font-weight="normal" text-anchor="end" fill="#1a1a1a" stroke="#1a1a1a" stroke-width="0.22" textLength="18.60" lengthAdjust="spacingAndGlyphs" >80000</text>
<line x1="439.7" y1="277.6" x2="439.7" y2="279.6" stroke="#8a8a8a" stroke-width="1"/>
<line x1="505.5" y1="277.6" x2="505.5" y2="279.6" stroke="#8a8a8a" stroke-width="1"/>
<text x="409.50" y="290.70" font-size="7.0" font-weight="normal" text-anchor="middle" fill="#1a1a1a" stroke="#1a1a1a" stroke-width="0.22" >Pre</text>
<text x="475.30" y="290.70" font-size="7.0" font-weight="normal" text-anchor="middle" fill="#1a1a1a" stroke="#1a1a1a" stroke-width="0.22" >wk2</text>
<text x="428.80" y="227.00" font-size="10.0" font-weight="bold" text-anchor="start" fill="#000" stroke="#000" stroke-width="0.2" textLength="20.8" lengthAdjust="spacingAndGlyphs" >Pt90</text>
<text x="340.30" y="249.20" font-size="7" font-weight="bold" text-anchor="middle" fill="#000" stroke="#000" stroke-width="0.15" textLength="34.6" lengthAdjust="spacingAndGlyphs" transform="rotate(-90 340.30 249.20)" dy="2.4">Copies/ml</text>
<path d="M407.40,257.80 L473.40,228.30" fill="none" stroke="#000" stroke-width="2.0" stroke-dasharray="3.4 1.9"/>
<path d="M403.90,257.80 L407.40,254.72 L410.90,257.80 L407.40,260.88Z" fill="#000"/>
<path d="M469.90,228.30 L473.40,225.22 L476.90,228.30 L473.40,231.38Z" fill="#000"/>
<text x="3.70" y="10.70" font-size="12.8" font-weight="bold" text-anchor="start" fill="#000" stroke="#000" stroke-width="0.6" textLength="10.1" lengthAdjust="spacingAndGlyphs" >A</text>
<text x="50.10" y="10.60" font-size="10.5" font-weight="normal" text-anchor="start" fill="#111" stroke="#111" stroke-width="0.38" textLength="201.4" lengthAdjust="spacingAndGlyphs" >Viral load measurements – EBV responders</text>
<line x1="0" y1="190.3" x2="520" y2="190.3" stroke="#1e1e1e" stroke-width="1.05" stroke-dasharray="2.6 0.45"/>
<text x="34.60" y="205.00" font-size="10.5" font-weight="normal" text-anchor="start" fill="#111" stroke="#111" stroke-width="0.38" textLength="220.8" lengthAdjust="spacingAndGlyphs" >Viral load measurements – EBV non-responders</text>
<text x="-1.00" y="314.90" font-size="13.4" font-weight="bold" text-anchor="start" fill="#000" stroke="#000" stroke-width="0.6" textLength="9.8" lengthAdjust="spacingAndGlyphs" >B</text>
<text x="45.80" y="315.80" font-size="10.2" font-weight="normal" text-anchor="start" fill="#111" stroke="#111" stroke-width="0.4" textLength="45.5" lengthAdjust="spacingAndGlyphs" >Pre CTLs</text>
<text x="175.80" y="315.80" font-size="10.2" font-weight="normal" text-anchor="start" fill="#111" stroke="#111" stroke-width="0.4" textLength="50.5" lengthAdjust="spacingAndGlyphs" >Post CTLs</text>
<text x="279.60" y="316.30" font-size="15.2" font-weight="bold" text-anchor="start" fill="#000" stroke="#000" stroke-width="0.5" textLength="10.7" lengthAdjust="spacingAndGlyphs" >C</text>
<line x1="305.3" y1="361.3" x2="305.3" y2="475.5" stroke="#8a8a8a" stroke-width="1.1"/>
<line x1="305.3" y1="475.5" x2="516.5" y2="475.5" stroke="#8a8a8a" stroke-width="1.1"/>
<line x1="302.7" y1="475.50" x2="305.3" y2="475.50" stroke="#8a8a8a" stroke-width="1"/>
<text x="298.40" y="477.80" font-size="6.6" font-weight="bold" text-anchor="end" fill="#222" stroke="#222" stroke-width="0.1" >0</text>
<line x1="302.7" y1="459.19" x2="305.3" y2="459.19" stroke="#8a8a8a" stroke-width="1"/>
<text x="298.40" y="461.49" font-size="6.6" font-weight="bold" text-anchor="end" fill="#222" stroke="#222" stroke-width="0.1" >10</text>
<line x1="302.7" y1="442.87" x2="305.3" y2="442.87" stroke="#8a8a8a" stroke-width="1"/>
<text x="298.40" y="445.17" font-size="6.6" font-weight="bold" text-anchor="end" fill="#222" stroke="#222" stroke-width="0.1" >20</text>
<line x1="302.7" y1="426.56" x2="305.3" y2="426.56" stroke="#8a8a8a" stroke-width="1"/>
<text x="298.40" y="428.86" font-size="6.6" font-weight="bold" text-anchor="end" fill="#222" stroke="#222" stroke-width="0.1" >30</text>
<line x1="302.7" y1="410.24" x2="305.3" y2="410.24" stroke="#8a8a8a" stroke-width="1"/>
<text x="298.40" y="412.54" font-size="6.6" font-weight="bold" text-anchor="end" fill="#222" stroke="#222" stroke-width="0.1" >40</text>
<line x1="302.7" y1="393.93" x2="305.3" y2="393.93" stroke="#8a8a8a" stroke-width="1"/>
<text x="298.40" y="396.23" font-size="6.6" font-weight="bold" text-anchor="end" fill="#222" stroke="#222" stroke-width="0.1" >50</text>
<line x1="302.7" y1="377.61" x2="305.3" y2="377.61" stroke="#8a8a8a" stroke-width="1"/>
<text x="298.40" y="379.91" font-size="6.6" font-weight="bold" text-anchor="end" fill="#222" stroke="#222" stroke-width="0.1" >60</text>
<line x1="302.7" y1="361.30" x2="305.3" y2="361.30" stroke="#8a8a8a" stroke-width="1"/>
<text x="298.40" y="363.60" font-size="6.6" font-weight="bold" text-anchor="end" fill="#222" stroke="#222" stroke-width="0.1" >70</text>
<line x1="375.7" y1="475.5" x2="375.7" y2="477.5" stroke="#8a8a8a" stroke-width="1"/>
<line x1="446.2" y1="475.5" x2="446.2" y2="477.5" stroke="#8a8a8a" stroke-width="1"/>
<line x1="516.5" y1="475.5" x2="516.5" y2="477.5" stroke="#8a8a8a" stroke-width="1"/>
<text x="341.00" y="487.70" font-size="6.3" font-weight="bold" text-anchor="middle" fill="#222" stroke="#222" stroke-width="0.1" >Pre</text>
<text x="411.10" y="487.70" font-size="6.3" font-weight="bold" text-anchor="middle" fill="#222" stroke="#222" stroke-width="0.1" >wk2</text>
<text x="481.50" y="487.70" font-size="6.3" font-weight="bold" text-anchor="middle" fill="#222" stroke="#222" stroke-width="0.1" >wk4</text>
<text x="325.80" y="347.80" font-size="10.4" font-weight="bold" text-anchor="start" fill="#000" stroke="#000" stroke-width="0.15" textLength="148.5" lengthAdjust="spacingAndGlyphs" >Pt37 - Immune reconstitution</text>
<g transform="translate(281.8 434.8) rotate(-90)"><text x="0" y="2.5" font-size="7.2" font-weight="bold" fill="#111" stroke="#111" stroke-width="0.15" textLength="27.8" lengthAdjust="spacingAndGlyphs">SFC/2x10</text><text x="28.2" y="-0.6" font-size="4.6" font-weight="bold" fill="#111">6</text></g>
<path d="M340.5,438.6 L411.1,427.1 L480.9,385.7" fill="none" stroke="#000" stroke-width="2.1"/>
<line x1="340.5" y1="428.4" x2="340.5" y2="449.2" stroke="#333" stroke-width="0.9"/>
<line x1="338.2" y1="428.4" x2="342.8" y2="428.4" stroke="#333" stroke-width="0.9"/>
<line x1="338.2" y1="449.2" x2="342.8" y2="449.2" stroke="#333" stroke-width="0.9"/>
<circle cx="340.5" cy="438.6" r="2.9" fill="#000"/>
<line x1="411.1" y1="407.6" x2="411.1" y2="446.7" stroke="#333" stroke-width="0.9"/>
<line x1="408.8" y1="407.6" x2="413.40000000000003" y2="407.6" stroke="#333" stroke-width="0.9"/>
<line x1="408.8" y1="446.7" x2="413.40000000000003" y2="446.7" stroke="#333" stroke-width="0.9"/>
<circle cx="411.1" cy="427.1" r="2.9" fill="#000"/>
<line x1="480.9" y1="378.4" x2="480.9" y2="392.2" stroke="#333" stroke-width="0.9"/>
<line x1="478.59999999999997" y1="378.4" x2="483.2" y2="378.4" stroke="#333" stroke-width="0.9"/>
<line x1="478.59999999999997" y1="392.2" x2="483.2" y2="392.2" stroke="#333" stroke-width="0.9"/>
<circle cx="480.9" cy="385.7" r="2.9" fill="#000"/>
</svg>
</body></html>
